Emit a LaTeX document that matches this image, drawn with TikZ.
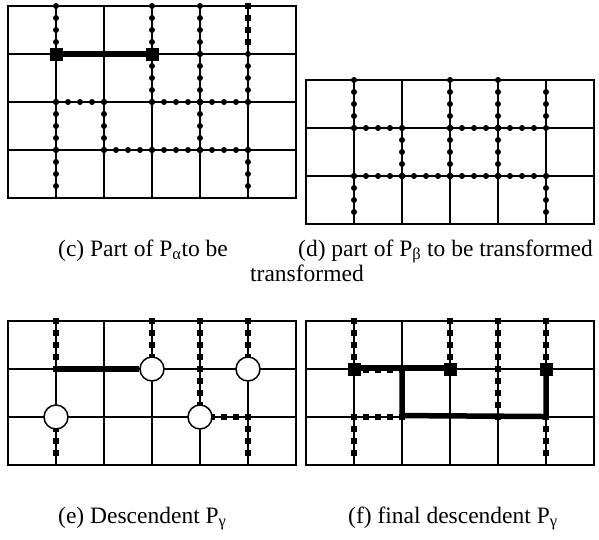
\documentclass[tikz,border=0pt]{standalone}
\usepackage{fontspec}
\setmainfont{Liberation Serif}
\tikzset{
  gridline/.style={line width=1.3pt, line cap=rect},
  thickpath/.style={line width=5.5pt},
  bigsq/.style={rectangle, fill=black, draw=none, minimum size=13pt, inner sep=0pt},
  ring/.style={circle, draw, fill=white, line width=1.5pt, minimum size=24pt, inner sep=0pt},
  captext/.style={anchor=base west, inner sep=0pt, font=\fontsize{23.5}{26}\selectfont},
}
\newcommand\rdotedge[5][0,...,4]{\foreach \k in {#1} \fill ({#2+(#4-#2)*\k/4},{#3+(#5-#3)*\k/4}) circle[radius=3pt];}
\newcommand\sqedge[5][0,...,4]{\foreach \k in {#1} \fill ({#2+(#4-#2)*\k/4},{#3+(#5-#3)*\k/4}) +(-2.6pt,-2.6pt) rectangle +(2.6pt,2.6pt);}
\newcommand\cellgrid[2]{%
  \draw[gridline] (0,0) rectangle (6,#1);
  \foreach \i in {1,...,5} \draw[gridline] (\i,0) -- (\i,#1);
  \foreach \j in {#2} \draw[gridline] (0,\j) -- (6,\j);}
\begin{document}
\begin{tikzpicture}[x=1pt,y=-1pt]
\useasboundingbox (0,0) rectangle (599,539);

% (c)
\begin{scope}[shift={(8,6)}, x=48pt, y=-48pt]
  \cellgrid{4}{1,2,3}
  \draw[thickpath] (1,1) -- (3,1);
  \rdotedge{1}{0}{1}{1}
  \rdotedge{3}{0}{3}{1}
  \rdotedge{3}{1}{3}{2}
  \rdotedge{4}{0}{4}{1}
  \rdotedge{4}{1}{4}{2}
  \rdotedge{4}{2}{4}{3}
  \sqedge[0,...,3]{5}{0}{5}{1}
  \rdotedge{5}{1}{5}{2}
  \rdotedge{1}{2}{1}{3}
  \rdotedge[0,...,3]{1}{3}{1}{4}
  \rdotedge{2}{2}{2}{3}
  \rdotedge[0,...,3]{5}{3}{5}{4}
  \rdotedge{1}{2}{2}{2}
  \rdotedge{3}{2}{4}{2}
  \rdotedge{4}{2}{5}{2}
  \rdotedge{2}{3}{3}{3}
  \rdotedge{3}{3}{4}{3}
  \rdotedge{4}{3}{5}{3}
  \node[bigsq] (ca) at (1,1) {};
  \node[bigsq] (cb) at (3,1) {};
\end{scope}

% (d)
\begin{scope}[shift={(306,80)}, x=48pt, y=-48pt]
  \cellgrid{3}{1,2}
  \rdotedge{1}{0}{1}{1}
  \rdotedge[0,...,3]{1}{2}{1}{3}
  \rdotedge{2}{1}{2}{2}
  \rdotedge{3}{0}{3}{1}
  \rdotedge{3}{1}{3}{2}
  \rdotedge{4}{0}{4}{1}
  \rdotedge{4}{1}{4}{2}
  \rdotedge[1,2,3]{5}{0}{5}{1}
  \rdotedge[0,...,3]{5}{2}{5}{3}
  \rdotedge{1}{1}{2}{1}
  \rdotedge{3}{1}{4}{1}
  \rdotedge{4}{1}{5}{1}
  \rdotedge{1}{2}{2}{2}
  \rdotedge{2}{2}{3}{2}
  \rdotedge{3}{2}{4}{2}
  \rdotedge{4}{2}{5}{2}
\end{scope}

% (e)
\begin{scope}[shift={(8,321)}, x=48pt, y=-48pt]
  \cellgrid{3}{1,2}
  \sqedge{1}{0}{1}{1}
  \sqedge{3}{0}{3}{1}
  \sqedge{4}{0}{4}{1}
  \sqedge{4}{1}{4}{2}
  \sqedge{5}{0}{5}{1}
  \sqedge[0,...,3]{1}{2}{1}{3}
  \sqedge{4}{2}{5}{2}
  \sqedge[0,...,3]{5}{2}{5}{3}
  \node[ring] (e1) at (3,1) {};
  \node[ring] (e2) at (5,1) {};
  \node[ring] (e3) at (1,2) {};
  \node[ring] (e4) at (4,2) {};
  \coordinate (es) at (1,1);
  \draw[thickpath] (es) -- (e1.west);
\end{scope}

% (f)
\begin{scope}[shift={(306,321)}, x=48pt, y=-48pt]
  \cellgrid{3}{1,2}
  \sqedge{1}{0}{1}{1}
  \sqedge{3}{0}{3}{1}
  \sqedge{4}{0}{4}{1}
  \sqedge{4}{1}{4}{2}
  \sqedge{5}{0}{5}{1}
  \sqedge{1}{2}{2}{2}
  \sqedge[0,...,3]{1}{2}{1}{3}
  \sqedge[0,...,3]{5}{2}{5}{3}
  \sqedge{1}{1.035}{2}{1.035}
  \coordinate (f2a) at (2,0.98);
  \coordinate (f2b) at (2,1.97);
  \coordinate (f5b) at (5,1.99);
  \draw[thickpath] (1,0.98) -- (3,0.98);
  \draw[thickpath] (f2a) -- (f2b) -- (f5b) -- (5,1);
  \node[bigsq] (fa) at (1,1) {};
  \node[bigsq] (fb) at (3,1) {};
  \node[bigsq] (fc) at (5,1) {};
\end{scope}

% captions
\node[captext] (capc) at (58,256) {(c) Part of P\textsubscript{α}to be};
\node[captext] (capd) at (298,256) {(d) part of P\textsubscript{β} to be transformed};
\node[captext] (capc2) at (250,281) {transformed};
\node[captext] (cape) at (58,523) {(e) Descendent P\textsubscript{γ}};
\node[captext] (capf) at (348,523) {(f) final descendent P\textsubscript{γ}};
\end{tikzpicture}
\end{document}
